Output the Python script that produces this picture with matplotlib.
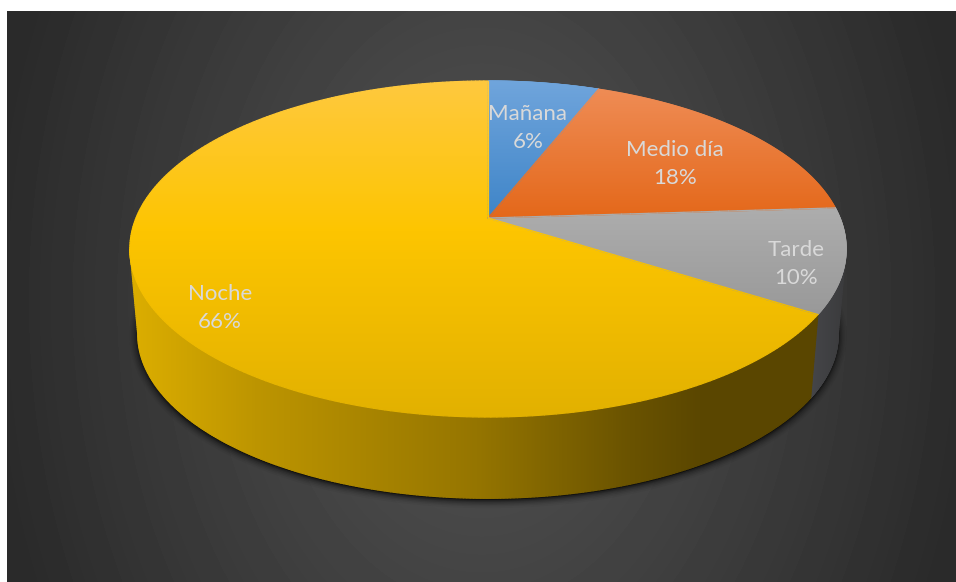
import numpy as np
import matplotlib
matplotlib.use("Agg")
import matplotlib.pyplot as plt
from matplotlib.collections import LineCollection
from matplotlib.colors import LinearSegmentedColormap
from matplotlib.patches import Polygon

plt.rcParams["font.family"] = ["Lato", "DejaVu Sans"]

CATEGORIES = ["Mañana", "Medio día", "Tarde", "Noche"]
VALUES = [6, 18, 10, 66]

W, H = 956, 582

# pie geometry on the canvas, pixels
CX, APEX_Y = 488, 218
TILT = 0.1845
RX, RY = 352, 162.3
MID_Y = 249
BASE_Y, BASE_SCALE = 334, 0.978
# rim angles where the pie outline is widest, the walls stop there
SIDE_RIGHT = 100.6
SIDE_LEFT = 259.4

TOP_COLORS = [
    [(0.0, "#70a5dc"), (1.0, "#3f85c8")],
    [(0.0, "#ef8c55"), (1.0, "#e4681a")],
    [(0.0, "#adadad"), (1.0, "#999999")],
    [(0.0, "#ffc93f"), (0.45, "#fdc500"), (1.0, "#e2b100")],
]
LABEL_XY = [(528, 128), (675, 164), (796, 264), (220, 308)]

NOCHE_WALL = [(0.0, "#dcae00"), (0.18, "#bd9500"), (0.5, "#957500"),
              (0.72, "#6a5300"), (0.82, "#5b4700"), (1.0, "#5a4600")]
TARDE_WALL = [(0.0, "#47484b"), (1.0, "#3a3a3c")]


def rim(angle):
    """Project clockwise-from-top angles (degrees) onto the top rim."""
    t = np.radians(angle)
    u, v = np.sin(t), np.cos(t)
    d = 1 + TILT * v
    return CX + RX * u / d, APEX_Y - RY * v / d


def base(x, y):
    return CX + BASE_SCALE * (x - CX), BASE_Y + BASE_SCALE * (y - MID_Y)


def line(p, q, n=40):
    return np.linspace(p, q, n)


def wedge_outline(a0, a1):
    x, y = rim(np.linspace(a0, a1, 300))
    arc = np.column_stack([x, y])
    apex = (CX, APEX_Y)
    return np.vstack([line(apex, arc[0]), arc, line(arc[-1], apex)])


def wall_outline(a0, a1):
    x, y = rim(np.linspace(a0, a1, 300))
    bx, by = base(x, y)
    upper = np.column_stack([x, y])
    lower = np.column_stack([bx, by])[::-1]
    return np.vstack([upper, line(upper[-1], lower[0]), lower, line(lower[-1], upper[0])])


def fill_gradient(ax, outline, stops, lo, hi, axis, z):
    """Fill a closed outline with a linear gradient running from lo to hi."""
    cmap = LinearSegmentedColormap.from_list("fill", stops)
    ramp = np.linspace(0, 1, 512)
    if axis == "y":
        img, extent = ramp[:, None], (0, W, hi, lo)
    else:
        img, extent = ramp[None, :], (lo, hi, H, 0)
    im = ax.imshow(img, cmap=cmap, extent=extent, origin="upper", aspect="auto",
                   zorder=z, vmin=0, vmax=1, interpolation="bilinear")
    clip = Polygon(outline, closed=True, transform=ax.transData, fc="none", ec="none")
    ax.add_patch(clip)
    im.set_clip_path(clip)
    # clip paths are aliased, so run a thin matching stroke along the border
    pts = np.vstack([outline, outline[:1]])
    segs = np.stack([pts[:-1], pts[1:]], axis=1)
    coord = segs[:, :, 1 if axis == "y" else 0].mean(axis=1)
    lc = LineCollection(segs, colors=cmap(np.clip((coord - lo) / (hi - lo), 0, 1)),
                        linewidths=0.9, zorder=z + 0.01, capstyle="round")
    ax.add_collection(lc)


fig = plt.figure(figsize=(W / 100, H / 100), dpi=100, facecolor="white")
ax = fig.add_axes([0, 0, 1, 1])

# panel background, a soft radial glow with a white margin top and left
gx, gy = np.meshgrid(np.arange(7, W) + 0.5, np.arange(11, H) + 0.5)
r = np.sqrt(((gx - 482) / 480) ** 2 + (0.42 * (gy - 300) / 290) ** 2)
shade = 0x52 - (0x52 - 0x2a) * np.clip(r / 1.03, 0, 1) ** 1.15
ax.imshow(shade, cmap="gray", vmin=0, vmax=255, extent=(7, W, H, 11), aspect="auto",
          interpolation="bilinear", zorder=0)

# contact shadow under the base of the pie
bx, by = base(*rim(np.linspace(0, 360, 720)))
for lw, alpha in zip([12, 9.5, 7.5, 5.5, 3.5, 2], [0.04, 0.06, 0.08, 0.11, 0.15, 0.2]):
    ax.add_patch(Polygon(np.column_stack([bx, by + 1.5]), closed=True, fc="black",
                         ec="black", lw=lw, alpha=alpha, zorder=1, joinstyle="round"))

ends = np.cumsum(VALUES) * 3.6
starts = np.concatenate([[0], ends[:-1]])

# side walls: only Tarde and Noche face the viewer
fill_gradient(ax, wall_outline(SIDE_RIGHT, ends[2]), TARDE_WALL, 805, 848, "x", 2)
fill_gradient(ax, wall_outline(starts[3], SIDE_LEFT), NOCHE_WALL, 130, 825, "x", 2.1)

# top faces
for a0, a1, stops in zip(starts, ends, TOP_COLORS):
    outline = wedge_outline(a0, a1)
    ylo, yhi = outline[:, 1].min(), outline[:, 1].max()
    fill_gradient(ax, outline, stops, ylo, yhi, "y", 3)

for name, value, (lx, ly) in zip(CATEGORIES, VALUES, LABEL_XY):
    ax.text(lx, ly, f"{name}\n{value}%", ha="center", va="center", color="#d9d9d9",
            fontsize=16, linespacing=1.55, zorder=5)

ax.set_xlim(0, W)
ax.set_ylim(H, 0)
ax.axis("off")

fig.savefig("out.png", dpi=100, facecolor="white")
